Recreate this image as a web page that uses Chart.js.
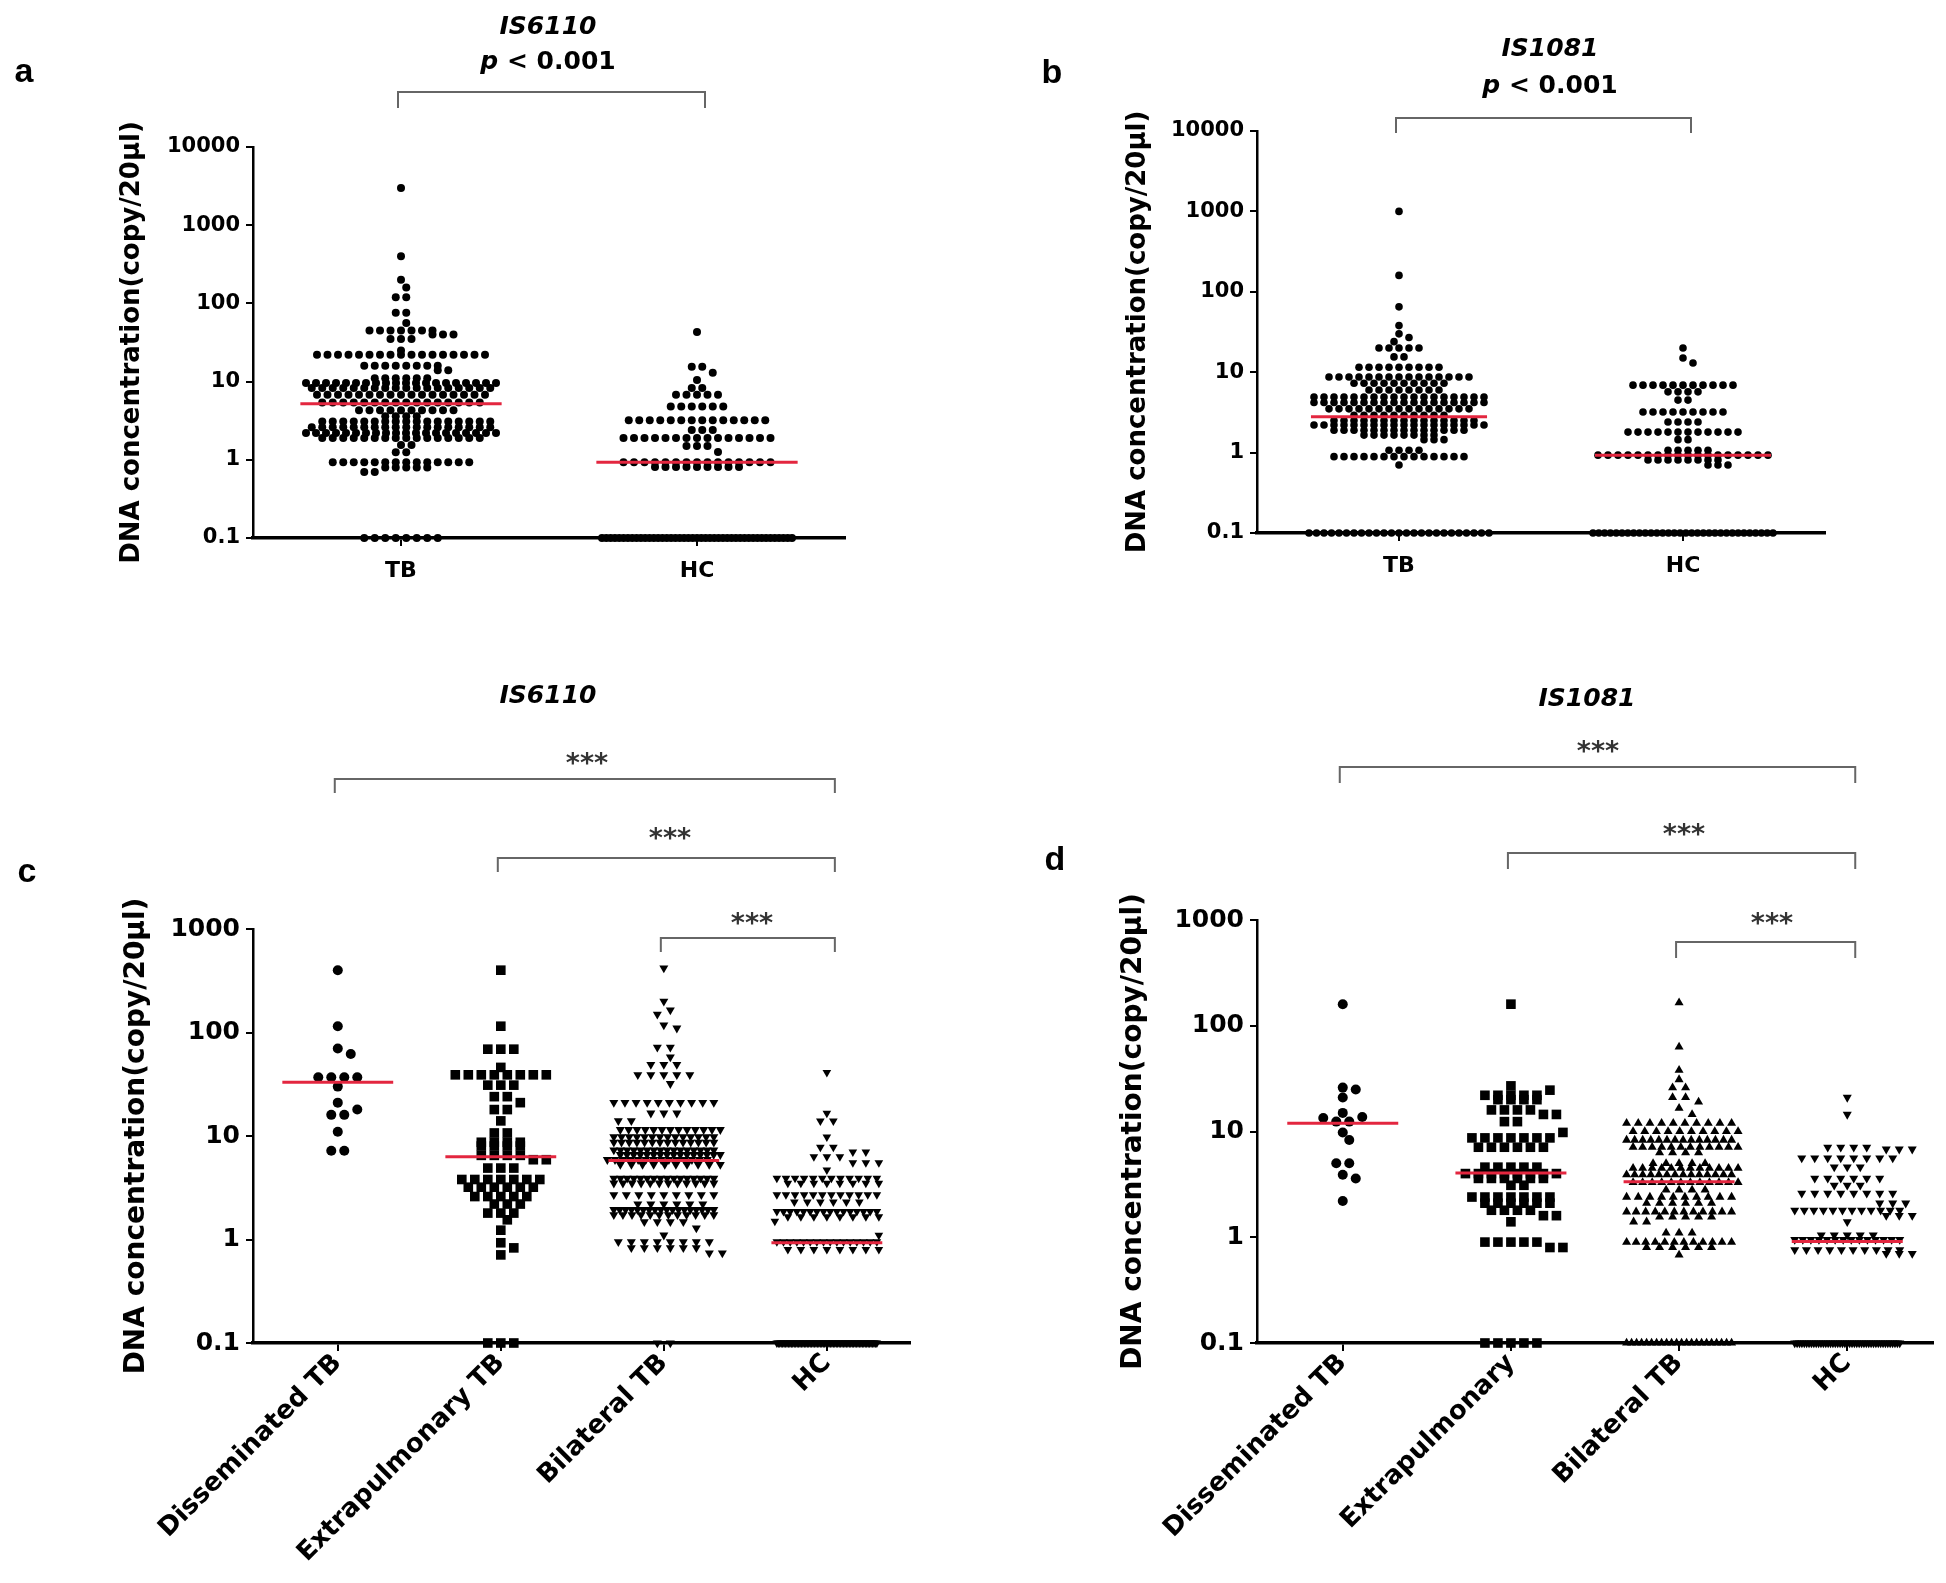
<!DOCTYPE html>
<html><head><meta charset="utf-8">
<script src="https://cdn.jsdelivr.net/npm/chart.js@4/dist/chart.umd.min.js"></script>
<style>
html,body{margin:0;padding:0;background:#fff;}
#page{position:relative;width:1946px;height:1583px;overflow:hidden;background:#fff;}
#page canvas{position:absolute;display:block;}
.t{position:absolute;transform:translate(-50%,-50%);white-space:nowrap;line-height:1;color:#000;}
.letter{font:bold 34px "Liberation Sans",Arial,sans-serif;}
.title{font:bold italic 25px "DejaVu Sans",sans-serif;}
.pval{font:bold 25px "DejaVu Sans",sans-serif;}
.star{font:bold 27px "DejaVu Sans",sans-serif;color:#333;}
</style></head><body><div id="page"></div>
<script>
// ---------------- data ----------------
const catsAB = ['TB', 'HC'];
const catsC = ['Disseminated TB', 'Extrapulmonary TB', 'Bilateral TB', 'HC'];
const catsD = ['Disseminated TB', 'Extrapulmonary', 'Bilateral TB', 'HC'];
const yTicksAB = [0.1, 1, 10, 100, 1000, 10000];
const yTicksCD = [0.1, 1, 10, 100, 1000];

// panel a: IS6110, TB vs HC
const aTB = [3000, 400, 200, 160, 120, 120, 76, 76, 56,
  45, 45, 45, 45, 45, 45, 45, 40, 40, 40, 35, 35, 35, 25,
  22, 22, 22, 22, 22, 22, 22, 22, 22, 22, 22, 22, 22, 22, 22, 22, 22,
  16, 16, 16, 16, 16, 16, 16, 16, 14, 14, 11, 11, 11, 11, 11, 11,
  9.6, 9.6, 9.6, 9.6, 9.6, 9.6, 9.6, 9.6, 9.6, 9.6, 9.6, 9.6, 9.6, 9.6, 9.6, 9.6, 9.6, 9.6, 9.6, 9.6,
  8.3, 8.3, 8.3, 8.3, 8.3, 8.3, 8.3, 8.3, 8.3, 8.3, 8.3, 8.3, 8.3, 8.3, 8.3, 8.3, 8.3, 8.3,
  6.8, 6.8, 6.8, 6.8, 6.8, 6.8, 6.8, 6.8, 6.8, 6.8, 6.8, 6.8, 6.8, 6.8, 6.8, 6.8, 6.8,
  5.4, 5.4, 5.4, 5.4, 5.4, 5.4, 5.4, 5.4, 5.4, 5.4, 5.4, 5.4, 5.4, 5.4, 5.4, 5.4,
  4.3, 4.3, 4.3, 4.3, 4.3, 4.3, 4.3, 4.3, 4.3, 4.3, 3.6, 3.6, 3.6, 3.6,
  3.1, 3.1, 3.1, 3.1, 3.1, 3.1, 3.1, 3.1, 3.1, 3.1, 3.1, 3.1, 3.1, 3.1, 3.1, 3.1, 3.1,
  2.6, 2.6, 2.6, 2.6, 2.6, 2.6, 2.6, 2.6, 2.6, 2.6, 2.6, 2.6, 2.6, 2.6, 2.6, 2.6, 2.6, 2.6,
  2.2, 2.2, 2.2, 2.2, 2.2, 2.2, 2.2, 2.2, 2.2, 2.2, 2.2, 2.2, 2.2, 2.2, 2.2, 2.2, 2.2, 2.2, 2.2, 2.2,
  1.9, 1.9, 1.9, 1.9, 1.9, 1.9, 1.9, 1.9, 1.9, 1.9, 1.9, 1.9, 1.9, 1.9, 1.9, 1.9,
  1.55, 1.55, 1.25, 1.25,
  0.93, 0.93, 0.93, 0.93, 0.93, 0.93, 0.93, 0.93, 0.93, 0.93, 0.93, 0.93, 0.93, 0.93,
  0.8, 0.8, 0.8, 0.8, 0.8, 0.7, 0.7,
  0.1, 0.1, 0.1, 0.1, 0.1, 0.1, 0.1, 0.1];
const aHC = [43, 15.5, 15.5, 13, 10.5, 8.3, 8.3, 6.8, 6.8, 6.8, 6.8, 6.8,
  4.8, 4.8, 4.8, 4.8, 4.8, 4.8,
  3.2, 3.2, 3.2, 3.2, 3.2, 3.2, 3.2, 3.2, 3.2, 3.2, 3.2, 3.2, 3.2, 3.2, 2.4, 2.4, 2.4,
  1.9, 1.9, 1.9, 1.9, 1.9, 1.9, 1.9, 1.9, 1.9, 1.9, 1.9, 1.9, 1.9, 1.9, 1.9,
  1.5, 1.5, 1.5, 1.26,
  0.93, 0.93, 0.93, 0.93, 0.93, 0.93, 0.93, 0.93, 0.93, 0.93, 0.93, 0.93, 0.93, 0.93, 0.93,
  0.81, 0.81, 0.81, 0.81, 0.81, 0.81, 0.81, 0.81, 0.81,
  0.1, 0.1, 0.1, 0.1, 0.1, 0.1, 0.1, 0.1, 0.1, 0.1, 0.1, 0.1, 0.1, 0.1, 0.1,
  0.1, 0.1, 0.1, 0.1, 0.1, 0.1, 0.1, 0.1, 0.1, 0.1, 0.1, 0.1, 0.1, 0.1, 0.1,
  0.1, 0.1, 0.1, 0.1, 0.1, 0.1, 0.1, 0.1, 0.1, 0.1, 0.1, 0.1, 0.1, 0.1, 0.1];
const aMedians = [5.2, 0.93];

// panel b: IS1081, TB vs HC
const bTB = [1000, 160, 65, 38, 30, 27, 24, 20, 20, 20, 20, 20, 15.5, 15.5,
  11.5, 11.5, 11.5, 11.5, 11.5, 11.5, 11.5, 11.5, 11.5,
  8.7, 8.7, 8.7, 8.7, 8.7, 8.7, 8.7, 8.7, 8.7, 8.7, 8.7, 8.7, 8.7, 8.7, 8.7,
  7.3, 7.3, 7.3, 7.3, 7.3, 7.3, 7.3, 7.3, 7.3, 7.3, 6, 6, 6, 6, 6, 6, 6, 6,
  4.9, 4.9, 4.9, 4.9, 4.9, 4.9, 4.9, 4.9, 4.9, 4.9, 4.9, 4.9, 4.9, 4.9, 4.9, 4.9, 4.9, 4.9,
  4.2, 4.2, 4.2, 4.2, 4.2, 4.2, 4.2, 4.2, 4.2, 4.2, 4.2, 4.2, 4.2, 4.2, 4.2, 4.2, 4.2, 4.2,
  3.5, 3.5, 3.5, 3.5, 3.5, 3.5, 3.5, 3.5, 3.5, 3.5, 3.5, 3.5, 3.5, 3.5, 3.5,
  2.9, 2.9, 2.9, 2.9, 2.9, 2.9, 2.9, 2.9, 2.9, 2.9,
  2.5, 2.5, 2.5, 2.5, 2.5, 2.5, 2.5, 2.5, 2.5, 2.5, 2.5, 2.5, 2.5, 2.5, 2.5,
  2.2, 2.2, 2.2, 2.2, 2.2, 2.2, 2.2, 2.2, 2.2, 2.2, 2.2, 2.2, 2.2, 2.2, 2.2, 2.2, 2.2, 2.2,
  1.9, 1.9, 1.9, 1.9, 1.9, 1.9, 1.9, 1.9, 1.9, 1.9, 1.9, 1.9, 1.9, 1.9,
  1.65, 1.65, 1.65, 1.65, 1.65, 1.65, 1.65, 1.65, 1.45, 1.45, 1.45, 1.07, 1.07, 1.07, 1.07,
  0.89, 0.89, 0.89, 0.89, 0.89, 0.89, 0.89, 0.89, 0.89, 0.89, 0.89, 0.89, 0.89, 0.89, 0.7,
  0.1, 0.1, 0.1, 0.1, 0.1, 0.1, 0.1, 0.1, 0.1, 0.1, 0.1, 0.1, 0.1, 0.1, 0.1,
  0.1, 0.1, 0.1, 0.1, 0.1, 0.1, 0.1, 0.1, 0.1, 0.1];
const bHC = [20, 15, 13, 6.9, 6.9, 6.9, 6.9, 6.9, 6.9, 6.9, 6.9, 6.9, 6.9, 6.9,
  5.7, 5.7, 5.7, 5.7, 4.5, 4.5, 3.2, 3.2, 3.2, 3.2, 3.2, 3.2, 3.2, 3.2, 3.2, 2.4, 2.4, 2.4, 2.4,
  1.8, 1.8, 1.8, 1.8, 1.8, 1.8, 1.8, 1.8, 1.8, 1.8, 1.8, 1.8, 1.45, 1.45,
  1.07, 1.07, 1.07, 1.07, 1.07,
  0.93, 0.93, 0.93, 0.93, 0.93, 0.93, 0.93, 0.93, 0.93, 0.93, 0.93, 0.93, 0.93, 0.93, 0.93, 0.93, 0.93, 0.93,
  0.81, 0.81, 0.81, 0.81, 0.81, 0.81, 0.81, 0.81, 0.7, 0.7, 0.7,
  0.1, 0.1, 0.1, 0.1, 0.1, 0.1, 0.1, 0.1, 0.1, 0.1, 0.1, 0.1, 0.1, 0.1, 0.1, 0.1,
  0.1, 0.1, 0.1, 0.1, 0.1, 0.1, 0.1, 0.1, 0.1, 0.1, 0.1, 0.1, 0.1, 0.1, 0.1, 0.1];
const bMedians = [2.8, 0.93];

// panel c: IS6110 by TB type
const cDiss = [400, 115, 70, 62, 37, 37, 37, 37, 30, 21, 18, 16, 16, 11, 7.2, 7.2];
const cExtra = [400, 115, 69, 69, 69, 46, 39, 39, 39, 39, 39, 39, 39, 39, 31, 31, 31, 24, 24, 21,
  18, 18, 14, 10.7, 10.7, 8.7, 8.7, 8.7, 8.7, 8, 8, 8, 8, 6.5, 6.5, 6.5, 6.5, 5.9, 5.9,
  4.9, 4.9, 4.9, 3.8, 3.8, 3.8, 3.8, 3.8, 3.8, 3.8, 3.2, 3.2, 3.2, 3.2, 3.2, 3.2,
  2.6, 2.6, 2.6, 2.6, 2.6, 2.2, 2.2, 2.2, 1.8, 1.8, 1.8, 1.55, 1.23, 0.93, 0.83, 0.71, 0.1, 0.1, 0.1];
const cBilat = [420, 200, 165, 150, 118, 110, 72, 72, 58, 49, 49, 49, 39, 39, 39, 39, 39, 32,
  21, 21, 21, 21, 21, 21, 21, 21, 21, 21, 16.6, 16.6, 16.6, 14, 14,
  11.5, 11.5, 11.5, 11.5, 11.5, 11.5, 11.5, 11.5, 11.5, 11.5, 11.5, 11.5, 11.5,
  9.8, 9.8, 9.8, 9.8, 9.8, 9.8, 9.8, 9.8, 9.8, 9.8, 9.8, 9.8, 9.8, 9.8,
  8.7, 8.7, 8.7, 8.7, 8.7, 8.7, 8.7, 8.7, 8.7, 8.7, 8.7, 8.7, 8.7, 8.7,
  7.3, 7.3, 7.3, 7.3, 7.3, 7.3, 7.3, 7.3, 7.3, 7.3, 7.3, 7.3, 7.3, 7.3, 7.3, 7.3,
  6.6, 6.6, 6.6, 6.6, 6.6, 6.6, 6.6, 6.6, 6.6, 6.6, 6.6, 6.6, 6.6, 6.6, 6.6, 6.6,
  5.9, 5.9, 5.9, 5.9, 5.9, 5.9, 5.9, 5.9, 5.9, 5.9, 5.9, 5.9, 5.9, 5.9,
  5.3, 5.3, 5.3, 5.3, 5.3, 5.3, 5.3, 5.3, 5.3, 5.3,
  3.9, 3.9, 3.9, 3.9, 3.9, 3.9, 3.9, 3.9, 3.9, 3.9, 3.9, 3.9, 3.9, 3.9, 3.9, 3.9,
  3.5, 3.5, 3.5, 3.5, 3.5, 3.5, 3.5, 3.5, 3.5, 3.5, 3.5, 3.5,
  2.7, 2.7, 2.7, 2.7, 2.7, 2.7, 2.7, 2.7, 2.7, 2.2, 2.2, 2.2, 2.2, 2.2, 2.2,
  1.94, 1.94, 1.94, 1.94, 1.94, 1.94, 1.94, 1.94, 1.94, 1.94, 1.94, 1.94, 1.94, 1.94, 1.94, 1.94, 1.94, 1.94,
  1.73, 1.73, 1.73, 1.73, 1.73, 1.73, 1.73, 1.73, 1.73, 1.73, 1.73, 1.73,
  1.48, 1.48, 1.48, 1.48, 1.29, 1.1, 0.95, 0.95, 0.95, 0.95, 0.95, 0.95, 0.95, 0.95,
  0.83, 0.83, 0.83, 0.83, 0.83, 0.83, 0.74, 0.74, 0.1, 0.1];
const cHC = [41, 16.6, 14, 14, 9.8, 7.8, 7.8, 7, 7, 6.3, 6.3, 6.3, 5.5, 5.5, 5.5, 4.7,
  3.9, 3.9, 3.9, 3.9, 3.9, 3.9, 3.9, 3.9, 3.9, 3.9, 3.9, 3.9, 3.5, 3.5, 3.5, 3.5, 3.5, 3.5, 3.5, 3.5,
  2.7, 2.7, 2.7, 2.7, 2.7, 2.7, 2.7, 2.7, 2.7, 2.7, 2.7, 2.7, 2.3, 2.3, 2.3, 2.3, 2.3, 2.3,
  1.86, 1.86, 1.86, 1.86, 1.86, 1.86, 1.86, 1.86, 1.86, 1.86, 1.86, 1.86, 1.86, 1.86, 1.86, 1.86,
  1.66, 1.66, 1.66, 1.66, 1.66, 1.66, 1.66, 1.66, 1.5, 1.1,
  0.95, 0.95, 0.95, 0.95, 0.95, 0.95, 0.95, 0.95, 0.95, 0.95, 0.95, 0.95, 0.95, 0.95, 0.95, 0.95,
  0.8, 0.8, 0.8, 0.8, 0.8, 0.8, 0.8, 0.8,
  0.1, 0.1, 0.1, 0.1, 0.1, 0.1, 0.1, 0.1, 0.1, 0.1, 0.1, 0.1, 0.1, 0.1,
  0.1, 0.1, 0.1, 0.1, 0.1, 0.1, 0.1, 0.1, 0.1, 0.1, 0.1, 0.1, 0.1, 0.1,
  0.1, 0.1, 0.1, 0.1, 0.1, 0.1, 0.1, 0.1, 0.1, 0.1, 0.1, 0.1, 0.1, 0.1,
  0.1, 0.1, 0.1, 0.1, 0.1, 0.1, 0.1, 0.1, 0.1, 0.1, 0.1, 0.1, 0.1, 0.1,
  0.1, 0.1, 0.1, 0.1, 0.1, 0.1, 0.1, 0.1, 0.1, 0.1, 0.1, 0.1, 0.1, 0.1];
const cMedians = [33, 6.3, 5.8, 0.93];

// panel d: IS1081 by TB type
const dDiss = [160, 26, 25, 21, 15, 13.7, 13.4, 12.4, 12.4, 9.8, 8.3, 5, 5, 3.9, 3.6, 2.2];
const dExtra = [160, 27, 24.6, 22, 22, 22, 22, 22, 20, 20, 20, 20, 16, 16, 16, 16, 14.5, 14.5, 12.4, 12.4, 9.8,
  8.7, 8.7, 8.7, 8.7, 8.7, 8.7, 8.7, 7.1, 7.1, 7.1, 7.1, 7.1, 7.1,
  4.6, 4.6, 4.6, 4.6, 4.6, 4, 4, 4, 4, 4, 4, 4, 4, 3.6, 3.6, 3.6, 3.6, 3.6, 3.6, 3.1, 3.1,
  2.4, 2.4, 2.4, 2.4, 2.4, 2.4, 2.4, 2.1, 2.1, 2.1, 2.1, 2.1, 2.1, 1.8, 1.8, 1.8, 1.8, 1.6, 1.6, 1.4,
  0.9, 0.9, 0.9, 0.9, 0.9, 0.8, 0.8, 0.1, 0.1, 0.1, 0.1, 0.1];
const dBilat = [165, 63, 38, 31, 26, 26, 21, 21, 19, 16.6, 14.5,
  12, 12, 12, 12, 12, 12, 12, 12, 12, 12, 10, 10, 10, 10, 10, 10, 10, 10, 10, 10,
  8.3, 8.3, 8.3, 8.3, 8.3, 8.3, 8.3, 8.3, 8.3, 8.3, 8.3, 8.3, 8.3, 8.3,
  7.1, 7.1, 7.1, 7.1, 7.1, 7.1, 7.1, 7.1, 7.1, 7.1, 7.1, 7.1, 6.3, 6.3, 6.3, 6.3, 5, 5, 5, 5, 5,
  4.5, 4.5, 4.5, 4.5, 4.5, 4.5, 4.5, 4.5, 4.5, 4.5, 4.5, 4.5,
  3.9, 3.9, 3.9, 3.9, 3.9, 3.9, 3.9, 3.9, 3.9, 3.9, 3.9, 3.9, 3.9, 3.9,
  3.3, 3.3, 3.3, 3.3, 3.3, 3.3, 3.3, 3.3, 3.3, 3.3, 3.3, 3.3, 2.8, 2.8, 2.8, 2.8,
  2.4, 2.4, 2.4, 2.4, 2.4, 2.4, 2.4, 2.4, 2.4, 2.4, 2.1, 2.1, 2.1, 2.1, 2.1, 2.1,
  1.74, 1.74, 1.74, 1.74, 1.74, 1.74, 1.74, 1.74, 1.74, 1.74, 1.74, 1.74, 1.56, 1.56, 1.56, 1.56, 1.56,
  1.4, 1.4, 1.1, 1.1, 1.1, 0.9, 0.9, 0.9, 0.9, 0.9, 0.9, 0.9, 0.9, 0.9, 0.9, 0.9, 0.9,
  0.8, 0.8, 0.8, 0.8, 0.8, 0.8, 0.68,
  0.1, 0.1, 0.1, 0.1, 0.1, 0.1, 0.1, 0.1, 0.1, 0.1, 0.1, 0.1, 0.1, 0.1, 0.1, 0.1, 0.1, 0.1, 0.1, 0.1, 0.1, 0.1];
const dHC = [21, 14.5, 7.1, 7.1, 7.1, 7.1, 6.8, 6.8, 6.8, 5.6, 5.6, 5.6, 5.6, 5.6, 5.6, 5.6, 5.6,
  4.6, 4.6, 4.6, 3.6, 3.6, 3.6, 3.6, 3.6, 3.6, 3.1, 3.1, 3.1, 2.6, 2.6, 2.6, 2.6, 2.6, 2.6, 2.6, 2.6,
  2.1, 2.1, 2.1, 1.8, 1.8, 1.8, 1.8, 1.8, 1.8, 1.8, 1.8, 1.8, 1.8, 1.8, 1.8, 1.6, 1.6, 1.6, 1.4,
  1.05, 1.05, 1.05, 1.05, 1.05, 0.95, 0.95, 0.95, 0.95, 0.95, 0.95, 0.95, 0.95, 0.95, 0.95, 0.95, 0.95, 0.95, 0.95,
  0.76, 0.76, 0.76, 0.76, 0.76, 0.76, 0.76, 0.76, 0.76, 0.76, 0.7, 0.7, 0.7,
  0.1, 0.1, 0.1, 0.1, 0.1, 0.1, 0.1, 0.1, 0.1, 0.1, 0.1, 0.1, 0.1, 0.1, 0.1,
  0.1, 0.1, 0.1, 0.1, 0.1, 0.1, 0.1, 0.1, 0.1, 0.1, 0.1, 0.1, 0.1, 0.1, 0.1,
  0.1, 0.1, 0.1, 0.1, 0.1, 0.1, 0.1, 0.1, 0.1, 0.1, 0.1, 0.1, 0.1, 0.1, 0.1];
const dMedians = [12, 4.05, 3.35, 0.91];

const yTitle = 'DNA concentration(copy/20μl)';

// ---------------- layout / styling ----------------
const RED = '#e3263f';
Chart.defaults.font.family = '"DejaVu Sans", sans-serif';
Chart.defaults.color = '#000';

// scatter-dot-plot (column swarm) layout: rows of equal values spread sideways
function swarm(values, center, g) {
  const counts = new Map();
  values.forEach(v => counts.set(v, (counts.get(v) || 0) + 1));
  const rows = [...counts.entries()].sort((a, b) => b[1] - a[1] || b[0] - a[0]);
  const placed = [], out = [];
  for (const [v, n] of rows) {
    const py = -Math.log10(v) * g.pxDec;
    const s = n > 1 ? Math.min(g.step, g.maxW / (n - 1)) : g.step;
    const base = [];
    for (let i = 0; i < n; i++) base.push((i - (n - 1) / 2) * s);
    const shifts = [0];
    const maxK = n <= 3 ? 8 : 1;
    for (let k = 1; k <= maxK; k++) shifts.push(k * g.step / 2, -k * g.step / 2);
    let best = 0, bestHits = Infinity;
    for (const sh of shifts) {
      let hits = 0;
      for (const bx of base) for (const p of placed) {
        const dx = bx + sh - p.x, dy = py - p.y;
        if (dx * dx + dy * dy < g.coll * g.coll) hits++;
      }
      if (hits < bestHits) { bestHits = hits; best = sh; }
      if (hits === 0) break;
    }
    for (const bx of base) {
      placed.push({x: bx + best, y: py});
      out.push({x: center + (bx + best) / g.pxX, y: v});
    }
  }
  return out;
}

const bracketPlugin = {
  id: 'brackets',
  afterDraw(chart, args, opts) {
    const {ctx} = chart, x = chart.scales.x;
    ctx.save();
    ctx.strokeStyle = '#666'; ctx.lineWidth = 2;
    for (const b of opts.items || []) {
      const x1 = x.getPixelForValue(b.from) + b.dl, x2 = x.getPixelForValue(b.to) + b.dr;
      ctx.beginPath();
      ctx.moveTo(x1, b.y + b.drop); ctx.lineTo(x1, b.y); ctx.lineTo(x2, b.y); ctx.lineTo(x2, b.y + b.drop);
      ctx.stroke();
    }
    ctx.restore();
  }
};

const PANELS = [
  { box: [0, 0, 973, 620], plot: [253, 147, 845, 538], xr: [-0.5, 1.5], yMax: 10000, yTicks: yTicksAB, cats: catsAB,
    groups: [{v: aTB, style: 'circle', r: 4}, {v: aHC, style: 'circle', r: 4}], med: aMedians, medHalf: 0.34,
    step: 10.5, maxW: 190, coll: 8, tickFont: 21, catFont: 22, rot: 0, XH: 50, YW: 140, titleFont: 26, titleCenter: 132,
    catPad: 12, brackets: [{from: 0, to: 1, y: 92, drop: 16}] },
  { box: [973, 0, 973, 620], plot: [1257, 131, 1825, 533], xr: [-0.5, 1.5], yMax: 10000, yTicks: yTicksAB, cats: catsAB,
    groups: [{v: bTB, style: 'circle', r: 3.8}, {v: bHC, style: 'circle', r: 3.8}], med: bMedians, medHalf: 0.31,
    step: 10, maxW: 180, coll: 7.5, tickFont: 21, catFont: 22, rot: 0, XH: 50, YW: 140, titleFont: 26, titleCenter: 1138,
    catPad: 12, brackets: [{from: 0, to: 1, y: 118, drop: 15}] },
  { box: [0, 620, 973, 963], plot: [253, 929, 910, 1343], xr: [-0.52, 3.51], yMax: 1000, yTicks: yTicksCD, cats: catsC,
    groups: [{v: cDiss, style: 'circle', r: 5}, {v: cExtra, style: 'rect', r: 6.8},
             {v: cBilat, style: 'triangle', r: 5.2, rot: 180}, {v: cHC, style: 'triangle', r: 5, rot: 180}],
    med: cMedians, medHalf: 0.34,
    step: 13, maxW: 100, coll: 9, tickFont: 25, catFont: 26, rot: 45, XH: 225, YW: 140, titleFont: 28, titleCenter: 137,
    catPad: -3, brackets: [{from: 0, to: 3, y: 779, drop: 14}, {from: 1, to: 3, y: 858, drop: 14}, {from: 2, to: 3, y: 938, drop: 14}] },
  { box: [973, 620, 973, 963], plot: [1257, 920, 1933, 1343], xr: [-0.51, 3.51], yMax: 1000, yTicks: yTicksCD, cats: catsD,
    groups: [{v: dDiss, style: 'circle', r: 5}, {v: dExtra, style: 'rect', r: 6.8},
             {v: dBilat, style: 'triangle', r: 5.2}, {v: dHC, style: 'triangle', r: 5.2, rot: 180}],
    med: dMedians, medHalf: 0.33,
    step: 13, maxW: 105, coll: 9, tickFont: 25, catFont: 26, rot: 45, XH: 225, YW: 140, titleFont: 28, titleCenter: 1134,
    catPad: -3, brackets: [{from: 0, to: 3, y: 767, drop: 16}, {from: 1, to: 3, y: 853, drop: 16}, {from: 2, to: 3, y: 942, drop: 16}] }
];

const page = document.getElementById('page');

PANELS.forEach(p => {
  const [bl, bt, bw, bh] = p.box;
  const [pl, pt, pr, pb] = p.plot;
  const canvas = document.createElement('canvas');
  canvas.width = bw; canvas.height = bh;
  canvas.style.left = bl + 'px'; canvas.style.top = bt + 'px';
  canvas.style.width = bw + 'px'; canvas.style.height = bh + 'px';
  page.appendChild(canvas);

  const geom = {
    pxX: (pr - pl) / (p.xr[1] - p.xr[0]),
    pxDec: (pb - pt) / (Math.log10(p.yMax) - Math.log10(0.1)),
    step: p.step, maxW: p.maxW, coll: p.coll
  };
  const datasets = [];
  p.groups.forEach((g, i) => {
    datasets.push({
      type: 'scatter', data: swarm(g.v, i, geom),
      pointStyle: g.style, pointRadius: g.r, pointRotation: g.rot || 0,
      backgroundColor: '#000', borderColor: '#000', borderWidth: 0,
      pointHoverRadius: g.r, clip: false, order: 1
    });
  });
  p.med.forEach((m, i) => {
    datasets.push({
      type: 'line', data: [{x: i - p.medHalf, y: m}, {x: i + p.medHalf, y: m}],
      borderColor: RED, borderWidth: 3, pointRadius: 0, fill: false, clip: false, order: 0
    });
  });

  const padLeft = pl - bl - p.YW;
  const titleLH = p.titleFont * 1.2;
  new Chart(canvas, {
    type: 'scatter',
    data: {datasets},
    plugins: [bracketPlugin],
    options: {
      responsive: false, animation: false, devicePixelRatio: 1, events: [],
      layout: {padding: {left: padLeft, top: pt - bt, right: bl + bw - pr, bottom: bt + bh - pb - p.XH}},
      plugins: {
        legend: {display: false}, tooltip: {enabled: false}, title: {display: false},
        brackets: {items: p.brackets.map(b => ({from: b.from, to: b.to, y: b.y - bt, drop: b.drop, dl: -3, dr: 8}))}
      },
      scales: {
        x: {
          type: 'linear', min: p.xr[0], max: p.xr[1],
          afterFit: s => { s.height = p.XH; },
          afterBuildTicks: s => { s.ticks = p.cats.map((c, i) => ({value: i})); },
          ticks: {
            callback: v => p.cats[v], autoSkip: false, minRotation: p.rot, maxRotation: p.rot,
            font: {size: p.catFont, weight: 'bold'}, color: '#000', padding: p.catPad
          },
          grid: {display: true, drawOnChartArea: false, drawTicks: true, tickLength: 8, color: '#000', lineWidth: 2},
          border: {display: true, color: '#000', width: 3.5}
        },
        y: {
          type: 'logarithmic', min: 0.1, max: p.yMax,
          afterFit: s => { s.width = p.YW; },
          afterBuildTicks: s => { s.ticks = p.yTicks.map(v => ({value: v})); },
          ticks: {
            callback: v => String(v), autoSkip: false,
            font: {size: p.tickFont, weight: 'bold'}, color: '#000', padding: 6
          },
          grid: {display: true, drawOnChartArea: false, drawTicks: true, tickLength: 7, color: '#000', lineWidth: 2},
          border: {display: true, color: '#000', width: 2.5},
          title: {
            display: true, text: yTitle, color: '#000',
            font: {size: p.titleFont, weight: 'bold'},
            padding: {top: Math.max(0, p.titleCenter - bl - padLeft - titleLH / 2), bottom: 0}
          }
        }
      }
    }
  });
});

// ---------------- text annotations ----------------
const LABELS = [
  {cls: 'letter', html: 'a', x: 24, y: 70},
  {cls: 'letter', html: 'b', x: 1052, y: 71},
  {cls: 'letter', html: 'c', x: 27, y: 870},
  {cls: 'letter', html: 'd', x: 1055, y: 858},
  {cls: 'title', html: 'IS6110', x: 548, y: 25},
  {cls: 'pval', html: '<i>p</i> &lt; 0.001', x: 548, y: 60},
  {cls: 'title', html: 'IS1081', x: 1550, y: 47},
  {cls: 'pval', html: '<i>p</i> &lt; 0.001', x: 1550, y: 84},
  {cls: 'title', html: 'IS6110', x: 548, y: 694},
  {cls: 'title', html: 'IS1081', x: 1587, y: 697},
  {cls: 'star', html: '***', x: 587, y: 762},
  {cls: 'star', html: '***', x: 670, y: 837},
  {cls: 'star', html: '***', x: 752, y: 922},
  {cls: 'star', html: '***', x: 1598, y: 750},
  {cls: 'star', html: '***', x: 1684, y: 833},
  {cls: 'star', html: '***', x: 1772, y: 922}
];
LABELS.forEach(l => {
  const d = document.createElement('div');
  d.className = 't ' + l.cls;
  d.innerHTML = l.html;
  d.style.left = l.x + 'px'; d.style.top = l.y + 'px';
  page.appendChild(d);
});
</script></body></html>
